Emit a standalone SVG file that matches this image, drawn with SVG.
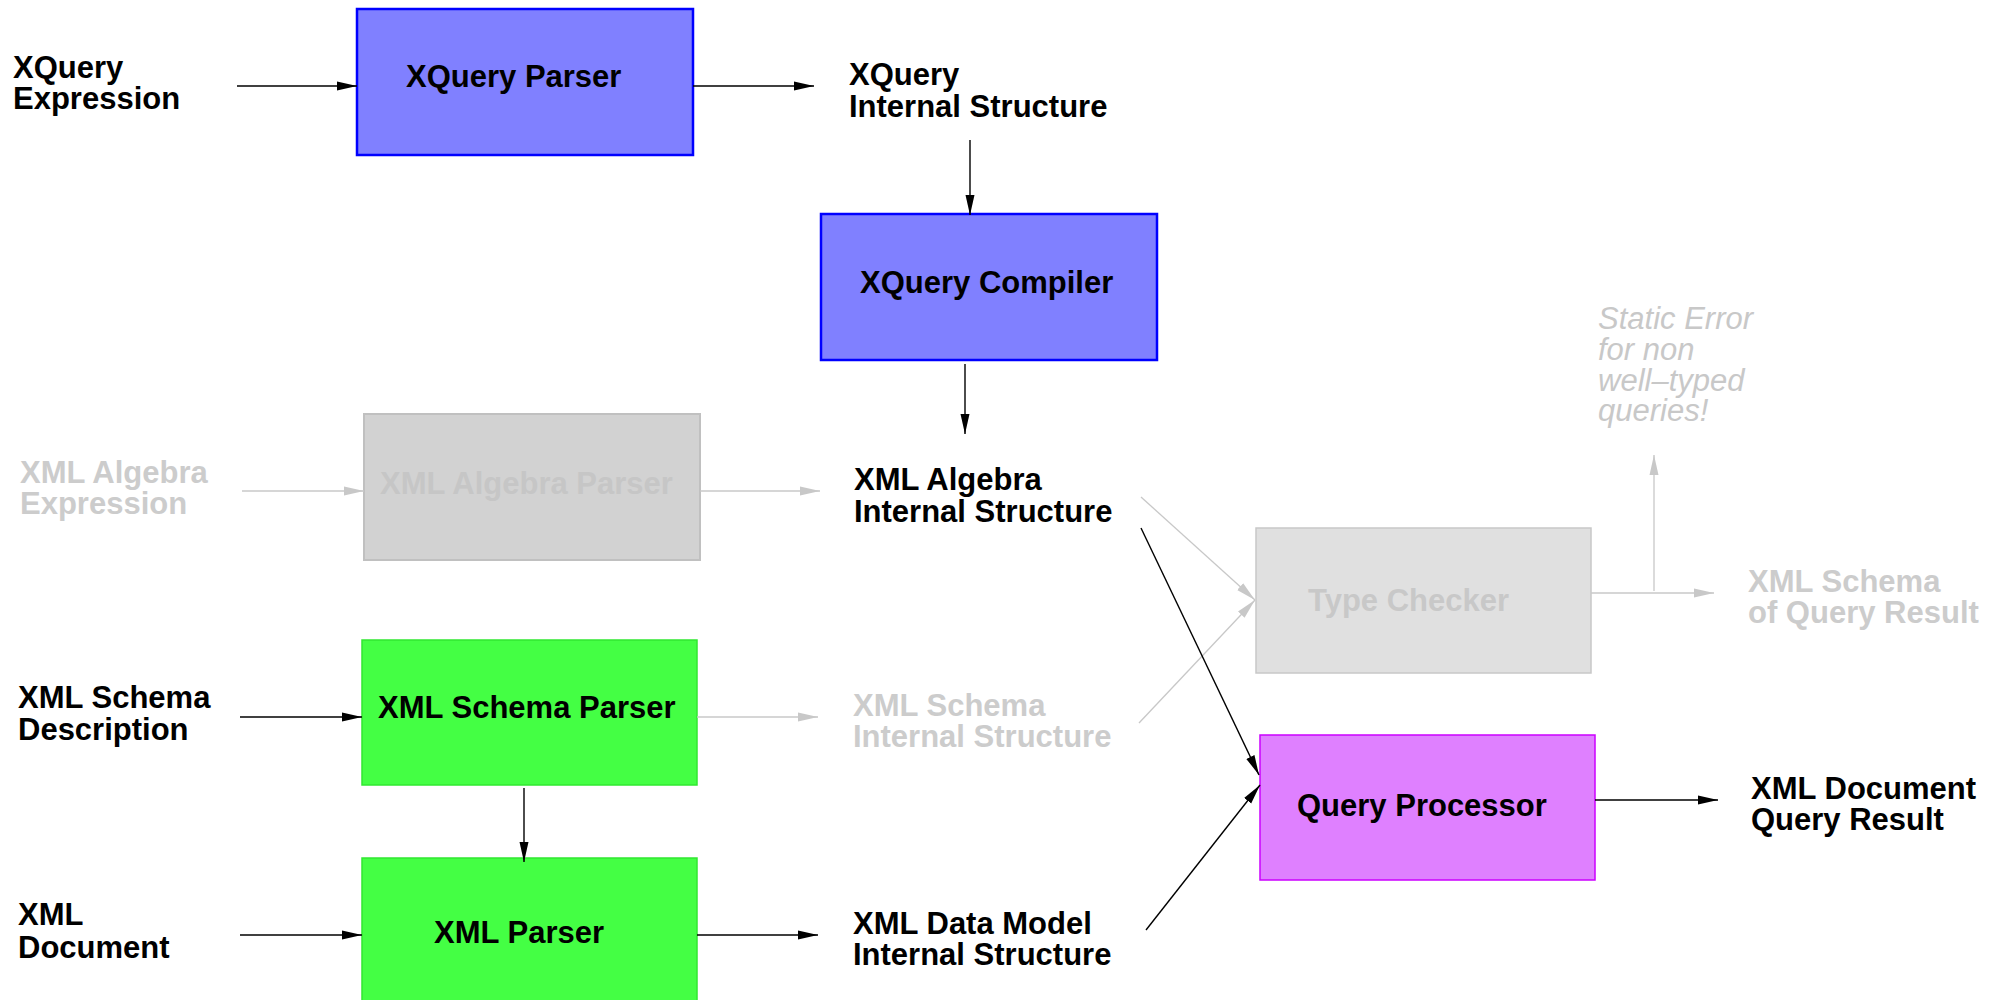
<svg xmlns="http://www.w3.org/2000/svg" width="2001" height="1000" viewBox="0 0 2001 1000">
<style>
text{font-family:"Liberation Sans",Arial,Helvetica,sans-serif;font-size:31px;font-weight:bold}
.k{fill:#000}
.g{fill:#cccccc}
.gi{fill:#c8c8c8;font-weight:normal;font-style:italic}
.bl{stroke:#000;stroke-width:1.4;fill:none}
.gl{stroke:#c8c8c8;stroke-width:1.3;fill:none}
</style>
<defs>
<marker id="ab" viewBox="0 0 20 10" refX="20" refY="5" markerWidth="20" markerHeight="10" markerUnits="userSpaceOnUse" orient="auto"><path d="M0,0.5 L20,5 L0,9.5 Z" fill="#000"/></marker>
<marker id="ag" viewBox="0 0 20 10" refX="20" refY="5" markerWidth="20" markerHeight="10" markerUnits="userSpaceOnUse" orient="auto"><path d="M0,0.5 L20,5 L0,9.5 Z" fill="#c8c8c8"/></marker>
</defs>
<rect width="2001" height="1000" fill="#fff"/>

<g id="nodes">
<g id="xquery-expression"><text class="k" x="13" y="78">XQuery</text><text class="k" x="13" y="109">Expression</text></g>
<g id="xquery-parser"><rect x="357" y="9" width="336" height="146" fill="#8080ff" stroke="#0000ff" stroke-width="2.5"/><text class="k" x="406" y="87">XQuery Parser</text></g>
<g id="xquery-internal"><text class="k" x="849" y="85">XQuery</text><text class="k" x="849" y="117">Internal Structure</text></g>
<g id="xquery-compiler"><rect x="821" y="214" width="336" height="146" fill="#8080ff" stroke="#0000ff" stroke-width="2.5"/><text class="k" x="860" y="293">XQuery Compiler</text></g>
<g id="xml-algebra-expression"><text class="g" x="20" y="483">XML Algebra</text><text class="g" x="20" y="514">Expression</text></g>
<g id="xml-algebra-parser"><rect x="364" y="414" width="336" height="146" fill="#d2d2d2" stroke="#c0c0c0" stroke-width="2"/><text fill="#c6c6c6" x="380" y="494">XML Algebra Parser</text></g>
<g id="xml-algebra-internal"><text class="k" x="854" y="490">XML Algebra</text><text class="k" x="854" y="522">Internal Structure</text></g>
<g id="static-error"><text class="gi" x="1598" y="329">Static Error</text><text class="gi" x="1598" y="360">for non</text><text class="gi" x="1598" y="391">well–typed</text><text class="gi" x="1598" y="421">queries!</text></g>
<g id="type-checker"><rect x="1256" y="528" width="335" height="145" fill="#e0e0e0" stroke="#c8c8c8" stroke-width="1.5"/><text fill="#c8c8c8" x="1308" y="611">Type Checker</text></g>
<g id="xml-schema-result"><text class="g" x="1748" y="592">XML Schema</text><text class="g" x="1748" y="623">of Query Result</text></g>
<g id="xml-schema-description"><text class="k" x="18" y="708">XML Schema</text><text class="k" x="18" y="740">Description</text></g>
<g id="xml-schema-parser"><rect x="362" y="640" width="335" height="145" fill="#44ff44" stroke="#30e830" stroke-width="1.5"/><text class="k" x="378" y="718">XML Schema Parser</text></g>
<g id="xml-schema-internal"><text class="g" x="853" y="716">XML Schema</text><text class="g" x="853" y="747">Internal Structure</text></g>
<g id="query-processor"><rect x="1260" y="735" width="335" height="145" fill="#df80ff" stroke="#cc00ff" stroke-width="1.5"/><text class="k" x="1297" y="816">Query Processor</text></g>
<g id="xml-document-result"><text class="k" x="1751" y="799">XML Document</text><text class="k" x="1751" y="830">Query Result</text></g>
<g id="xml-document"><text class="k" x="18" y="925">XML</text><text class="k" x="18" y="958">Document</text></g>
<g id="xml-parser"><rect x="362" y="858" width="335" height="146" fill="#44ff44" stroke="#30e830" stroke-width="1.5"/><text class="k" x="434" y="943">XML Parser</text></g>
<g id="xml-datamodel-internal"><text class="k" x="853" y="934">XML Data Model</text><text class="k" x="853" y="965">Internal Structure</text></g>
</g>

<g id="connectors">
<line class="bl" x1="237" y1="86" x2="357" y2="86" marker-end="url(#ab)"/>
<line class="bl" x1="693" y1="86" x2="814" y2="86" marker-end="url(#ab)"/>
<line class="bl" x1="970" y1="140" x2="970" y2="215" marker-end="url(#ab)"/>
<line class="bl" x1="965" y1="364" x2="965" y2="434" marker-end="url(#ab)"/>
<line class="gl" x1="242" y1="491" x2="364" y2="491" marker-end="url(#ag)"/>
<line class="gl" x1="700" y1="491" x2="820" y2="491" marker-end="url(#ag)"/>
<line class="gl" x1="1141" y1="497" x2="1255" y2="600" marker-end="url(#ag)"/>
<line class="gl" x1="1139" y1="723" x2="1255" y2="600" marker-end="url(#ag)"/>
<line class="bl" x1="1141" y1="528" x2="1259" y2="775" marker-end="url(#ab)"/>
<line class="bl" x1="1146" y1="930" x2="1260" y2="785" marker-end="url(#ab)"/>
<line class="gl" x1="1591" y1="593" x2="1714" y2="593" marker-end="url(#ag)"/>
<line class="gl" x1="1654" y1="591" x2="1654" y2="455" marker-end="url(#ag)"/>
<line class="bl" x1="240" y1="717" x2="362" y2="717" marker-end="url(#ab)"/>
<line class="gl" x1="697" y1="717" x2="818" y2="717" marker-end="url(#ag)"/>
<line class="bl" x1="524" y1="788" x2="524" y2="862" marker-end="url(#ab)"/>
<line class="bl" x1="240" y1="935" x2="362" y2="935" marker-end="url(#ab)"/>
<line class="bl" x1="697" y1="935" x2="818" y2="935" marker-end="url(#ab)"/>
<line class="bl" x1="1595" y1="800" x2="1718" y2="800" marker-end="url(#ab)"/>
</g>
</svg>
